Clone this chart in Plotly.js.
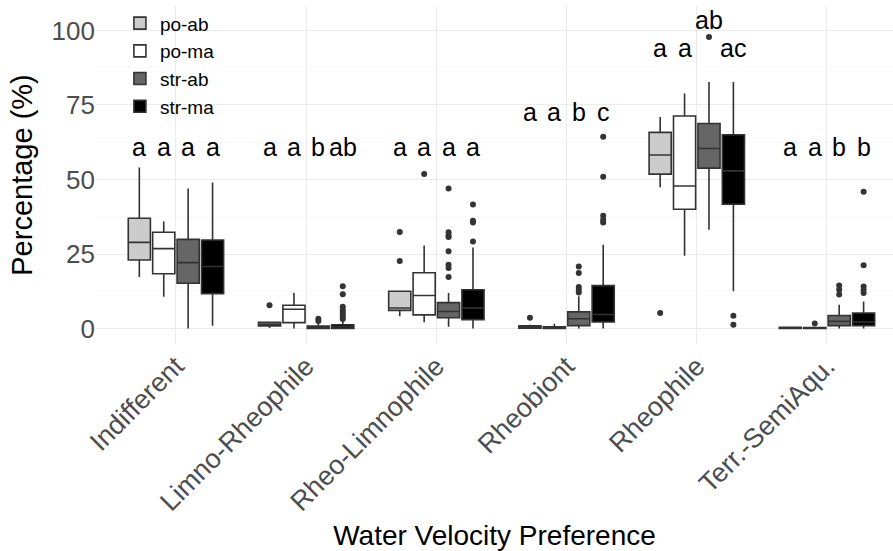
<!DOCTYPE html>
<html>
<head>
<meta charset="utf-8">
<script src="https://cdn.plot.ly/plotly-3.0.1.min.js"></script>
<style>html,body{margin:0;padding:0;background:#fff;}#chart{width:893px;height:551px;}</style>
</head>
<body>
<div id="chart"></div>
<script>
// ---- data ----
var categories = ['Indifferent', 'Limno-Rheophile', 'Rheo-Limnophile', 'Rheobiont', 'Rheophile', 'Terr.-SemiAqu.'];
var groups = ['po-ab', 'po-ma', 'str-ab', 'str-ma'];

var poAbLower  = [17.3, 0.2, 4.1, 0.0, 47.4, 0.0];
var poAbQ1     = [23.0, 0.9, 6.1, 0.1, 51.8, 0.0];
var poAbMedian = [28.9, 1.5, 6.9, 0.4, 58.2, 0.1];
var poAbQ3     = [37.0, 2.1, 12.5, 0.9, 65.8, 0.4];
var poAbUpper  = [54.0, 2.1, 12.5, 1.3, 71.0, 0.6];
var poAbOutliers = [[], [7.8], [32.4, 22.7], [3.6], [5.2], []];

var poMaLower  = [10.7, 0.0, 2.1, 0.0, 24.4, 0.0];
var poMaQ1     = [18.4, 2.0, 4.6, 0.0, 40.0, 0.0];
var poMaMedian = [26.8, 6.5, 11.1, 0.2, 47.8, 0.05];
var poMaQ3     = [32.3, 7.8, 18.7, 0.6, 71.3, 0.3];
var poMaUpper  = [35.9, 11.9, 27.9, 1.6, 78.8, 0.5];
var poMaOutliers = [[], [], [51.8], [], [], [1.7]];

var strAbLower  = [0.0, 0.0, 0.6, 0.0, 33.1, 0.0];
var strAbQ1     = [15.2, 0.0, 3.6, 1.0, 53.8, 1.0];
var strAbMedian = [22.1, 0.3, 5.7, 3.3, 60.4, 2.4];
var strAbQ3     = [29.9, 0.8, 8.7, 5.6, 68.8, 4.4];
var strAbUpper  = [47.0, 1.8, 11.9, 10.8, 82.7, 8.0];
var strAbOutliers = [[], [3.3, 2.5], [47.0, 32.3, 31.2, 30.7, 25.9, 21.4, 20.3, 17.3],
                     [20.8, 18.6, 13.9, 13.0, 12.1], [97.8], [14.4, 13.0, 11.4]];

var strMaLower  = [0.9, 0.0, 0.0, 0.0, 12.5, 0.0];
var strMaQ1     = [11.7, 0.0, 3.0, 2.2, 41.7, 1.0];
var strMaMedian = [20.8, 0.6, 6.9, 4.7, 52.9, 2.2];
var strMaQ3     = [29.7, 1.3, 13.0, 14.4, 65.0, 5.2];
var strMaUpper  = [49.0, 2.6, 27.2, 28.1, 82.7, 9.1];
var strMaOutliers = [[], [14.2, 11.5, 7.3, 6.2, 5.5, 4.6, 4.0, 3.2], [41.6, 36.2, 35.6, 29.2],
                     [64.3, 50.9, 37.8, 36.5, 35.6], [4.3, 1.3], [45.9, 21.2, 14.1, 13.0, 11.9]];

// significance letters (per group, per category) and their heights
var poAbLetters  = ['a', 'a', 'a', 'a', 'a', 'a'];
var poMaLetters  = ['a', 'a', 'a', 'a', 'a', 'a'];
var strAbLetters = ['a', 'b', 'a', 'b', 'ab', 'b'];
var strMaLetters = ['a', 'ab', 'a', 'c', 'ac', 'b'];
var poAbLetterY  = [61, 61, 61, 72.8, 94.2, 61];
var poMaLetterY  = [61, 61, 61, 72.8, 94.2, 61];
var strAbLetterY = [61, 61, 61, 72.8, 103.5, 61];
var strMaLetterY = [61, 61, 61, 72.8, 94.2, 61];

var yTicks = [0, 25, 50, 75, 100];

// ---- styling ----
var fills = ['#cccccc', '#ffffff', '#666666', '#000000'];
var lineCol = '#333333';
var dodge = 0.1875;
var boxW = 0.17;
var FONT = 'Liberation Sans, Arial, sans-serif';

var stats = [
  [poAbLower, poAbQ1, poAbMedian, poAbQ3, poAbUpper, poAbOutliers, poAbLetters, poAbLetterY],
  [poMaLower, poMaQ1, poMaMedian, poMaQ3, poMaUpper, poMaOutliers, poMaLetters, poMaLetterY],
  [strAbLower, strAbQ1, strAbMedian, strAbQ3, strAbUpper, strAbOutliers, strAbLetters, strAbLetterY],
  [strMaLower, strMaQ1, strMaMedian, strMaQ3, strMaUpper, strMaOutliers, strMaLetters, strMaLetterY]
];

var traces = [];
var annotations = [];
var catPos = categories.map(function (c, i) { return i + 1; });

stats.forEach(function (s, g) {
  var off = (g - 1.5) * dodge;
  var xs = catPos.map(function (p) { return p + off; });
  traces.push({
    type: 'box', name: groups[g], x: xs,
    lowerfence: s[0], q1: s[1], median: s[2], q3: s[3], upperfence: s[4],
    width: boxW, whiskerwidth: 0, boxpoints: false,
    fillcolor: fills[g], line: {color: lineCol, width: 1.6},
    showlegend: true, hoverinfo: 'skip'
  });
  var ox = [], oy = [];
  s[5].forEach(function (arr, i) {
    arr.forEach(function (v) { ox.push(xs[i]); oy.push(v); });
  });
  traces.push({
    type: 'scatter', mode: 'markers', x: ox, y: oy, showlegend: false,
    marker: {color: lineCol, size: 6}, hoverinfo: 'skip'
  });
  s[6].forEach(function (L, i) {
    annotations.push({
      x: xs[i], y: s[7][i], xref: 'x', yref: 'y', text: L, showarrow: false,
      font: {family: FONT, size: 25, color: '#000'}, xanchor: 'center', yanchor: 'middle'
    });
  });
});

var layout = {
  width: 893, height: 551,
  margin: {l: 96, r: 0, t: 5.5, b: 206.5},
  paper_bgcolor: '#fff', plot_bgcolor: '#fff',
  boxmode: 'overlay',
  font: {family: FONT},
  showlegend: true,
  legend: {
    x: 0.03, y: 1.005, xanchor: 'left', yanchor: 'top',
    bgcolor: 'rgba(0,0,0,0)', font: {family: FONT, size: 19, color: '#000'},
    itemwidth: 30
  },
  xaxis: {
    range: [0.386, 6.507], tickmode: 'array', tickvals: catPos, ticktext: categories,
    tickangle: -45, tickfont: {family: FONT, size: 27, color: '#4d4d4d'},
    showgrid: true, gridcolor: '#ebebeb', gridwidth: 1, zeroline: false, showline: false,
    ticks: '', automargin: false,
    title: {text: 'Water Velocity Preference', font: {family: FONT, size: 28, color: '#000'}, standoff: 14}
  },
  yaxis: {
    range: [-5.18, 108.19], tickmode: 'array', tickvals: yTicks,
    tickfont: {family: FONT, size: 26, color: '#4d4d4d'},
    showgrid: true, gridcolor: '#ebebeb', gridwidth: 1, zeroline: false, showline: false,
    minor: {dtick: 12.5, tick0: 0, showgrid: true, gridcolor: '#f4f4f4', gridwidth: 0.6},
    ticks: '', automargin: false,
    title: {text: 'Percentage (%)', font: {family: FONT, size: 29, color: '#000'}, standoff: 10}
  },
  annotations: annotations
};

Plotly.newPlot('chart', traces, layout, {displayModeBar: false, staticPlot: true});
</script>
</body>
</html>
